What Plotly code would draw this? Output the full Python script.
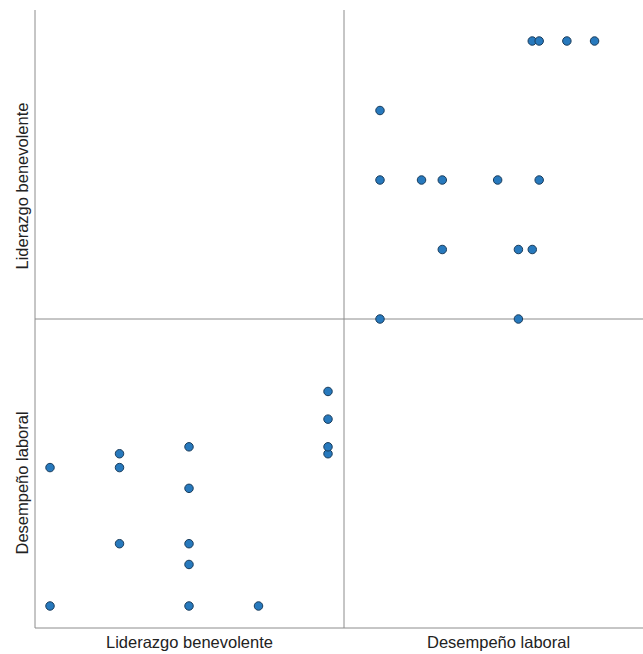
import plotly.graph_objects as go

# Paired observations: benevolent leadership level and job performance score
liderazgo = [5, 5, 5, 5, 4, 3, 3, 3, 3, 3, 2, 2, 2, 1, 1]
desempeno = [62, 63, 67, 71, 40, 40, 46, 49, 57, 63, 49, 60, 62, 40, 60]

var_names = ["Liderazgo benevolente", "Desempeño laboral"]

W, H = 643, 654
L, T, B = 35, 10, 26
x_split = (344 - L) / (W - L)
y_split = 0.5

marker = dict(size=8.5, color="#2779bd", line=dict(color="#1b3d5c", width=1))
font = dict(family="Liberation Sans, Arial, sans-serif", size=16.5, color="#222222")

fig = go.Figure()
# bottom-left: Liderazgo (x) vs Desempeño (y)
fig.add_trace(go.Scatter(x=liderazgo, y=desempeno, mode="markers", marker=marker,
                         xaxis="x", yaxis="y", hoverinfo="skip"))
# top-right: Desempeño (x) vs Liderazgo (y)
fig.add_trace(go.Scatter(x=desempeno, y=liderazgo, mode="markers", marker=marker,
                         xaxis="x2", yaxis="y2", hoverinfo="skip", cliponaxis=False))

hidden = dict(showgrid=False, zeroline=False, showticklabels=False, ticks="",
              showline=False, fixedrange=True)

fig.update_layout(
    width=W, height=H,
    margin=dict(l=L, r=0, t=T, b=B),
    paper_bgcolor="white", plot_bgcolor="white",
    showlegend=False,
    xaxis=dict(domain=[0, x_split], range=[0.784, 5.23], anchor="y", **hidden),
    yaxis=dict(domain=[0, y_split], range=[36.82, 81.47], anchor="x", **hidden),
    xaxis2=dict(domain=[x_split, 1], range=[34.8, 78.0], anchor="y2", **hidden),
    yaxis2=dict(domain=[y_split, 1], range=[1.0, 5.446], anchor="x2", **hidden),
)

line = dict(color="#8c8c8c", width=1)
shapes = [
    dict(type="line", xref="paper", yref="paper", x0=0, x1=0, y0=0, y1=1, line=line),
    dict(type="line", xref="paper", yref="paper", x0=0, x1=1, y0=0, y1=0, line=line),
    dict(type="line", xref="paper", yref="paper", x0=x_split, x1=x_split, y0=0, y1=1, line=line),
    dict(type="line", xref="paper", yref="paper", x0=0, x1=1, y0=y_split, y1=y_split, line=line),
]
for s in shapes:
    s["layer"] = "below"
fig.update_layout(shapes=shapes)

common = dict(xref="paper", yref="paper", showarrow=False, font=font,
              xanchor="center", yanchor="middle")
# column titles under the matrix
fig.add_annotation(text=var_names[0], x=x_split / 2, y=0, yshift=-14, **common)
fig.add_annotation(text=var_names[1], x=(x_split + 1.0164) / 2, y=0, yshift=-14, **common)
# row titles on the left
fig.add_annotation(text=var_names[0], textangle=-90, x=0, xshift=-14,
                   y=0.75, yshift=-22, **common)
fig.add_annotation(text=var_names[1], textangle=-90, x=0, xshift=-14,
                   y=0.25, yshift=-10, **common)

fig.write_html("out.html")
